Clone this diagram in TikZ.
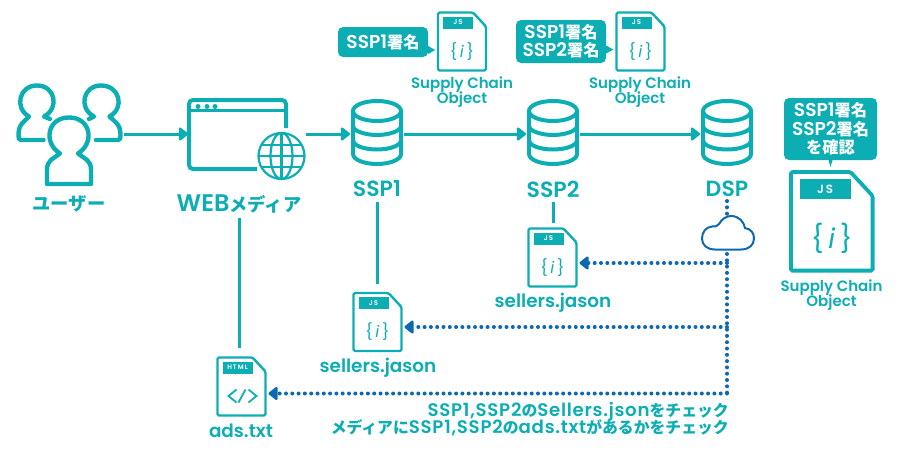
\documentclass[tikz,border=0pt]{standalone}
\usepackage{fontspec}
\setmainfont{Poppins}[BoldFont={Poppins SemiBold}]
\newfontfamily\cjk{Noto Sans CJK JP}[Scale=0.87]
\newfontfamily\latinwide{Poppins}[BoldFont={Poppins SemiBold},LetterSpace=4]
\usetikzlibrary{arrows.meta}
\definecolor{tealmain}{HTML}{0CAEB4}
\definecolor{bluemain}{HTML}{0B68B1}
\newcommand{\jp}[1]{{\cjk #1}}
\newcommand{\fs}[2]{\fontsize{#1}{#2}\selectfont\bfseries\lineskiplimit=-30pt\relax}
\tikzset{
    icon/.style={inner sep=0pt, outer sep=0pt},
    lbl/.style={text=tealmain, inner sep=0pt, align=center},
    sign/.style={fill=tealmain, text=white, rounded corners=5pt, inner sep=0pt, align=center, font=\fs{18.6}{18.5}},
    flow/.style={draw=tealmain, line width=3pt, -{Triangle[round,length=10pt,width=15pt]}},
    link/.style={draw=tealmain, line width=3pt},
    dotline/.style={draw=bluemain, line width=4pt, line cap=round, dash pattern=on 0pt off 6.3pt},
    dothead/.style={dotline, -{Triangle[round,length=10pt,width=15pt,color=bluemain,sep=2pt]}},
    smallfile/.style={line width=2.4pt},
    bigfile/.style={line width=3.8pt, scale=1.7, transform shape},
    filebody/.pic={
        \draw[tealmain, rounded corners=1.5pt] (0,0) -- (35,0) -- (48,14) -- (48,58) -- (0,58) -- cycle;
        \fill[tealmain] (5,4) rectangle (35,16);
    },
    jsfile/.pic={
        \pic {filebody};
        \node[icon, minimum width=48pt, minimum height=58pt] (box) at (24,29) {};
        \node[icon, text=white, font=\fontsize{7}{7}\selectfont\bfseries] (tag) at (20,10) {J\,S};
        \node[icon, text=tealmain, font=\fontsize{16}{16}\selectfont] (mark) at (24,39) {\{\,\textit{i}\,\}};
    },
    htmlfile/.pic={
        \pic {filebody};
        \node[icon, minimum width=48pt, minimum height=58pt] (box) at (24,29) {};
        \node[icon, text=white, font=\fontsize{6.5}{6.5}\selectfont\bfseries] (tag) at (20,10) {H\,T\,M\,L};
        \draw[tealmain, line width=1.8pt] (19,32) -- (11,38.5) -- (19,45) (21,45) -- (28,32) (31,32) -- (39,38.5) -- (31,45);
    },
    dbicon/.pic={
        \draw[tealmain, line width=4pt] (0,-23) ellipse [x radius=24, y radius=10];
        \draw[tealmain, line width=4pt] (-24,-23) -- (-24,20) .. controls (-24,26) and (-12,30) .. (0,30) .. controls (12,30) and (24,26) .. (24,20) -- (24,-23);
        \draw[tealmain, line width=4pt] (-24,-8) .. controls (-24,-3) and (-12,1) .. (0,1) .. controls (12,1) and (24,-3) .. (24,-8);
        \draw[tealmain, line width=4pt] (-24,6) .. controls (-24,12) and (-12,15.5) .. (0,15.5) .. controls (12,15.5) and (24,12) .. (24,6);
    },
}
\begin{document}
\begin{tikzpicture}[x=1pt, y=-1pt]
    \useasboundingbox (0,0) rectangle (900,450);
    % people
    \begin{scope}[draw=tealmain, line width=4.4pt, line cap=round, line join=round]
    \draw[tealmain] (43.5,140) -- (21,140) .. controls (18.5,140) and (18.5,138) .. (18.5,135) .. controls (18.5,124) and (24,122) .. (29,116.5)
        .. controls (14,108) and (19,85.5) .. (37,85.5) .. controls (55,85.5) and (60,108) .. (44,116.5) -- (50,119);
    \draw[tealmain] (96,140) -- (118,140) .. controls (120.5,140) and (120.5,138) .. (120.5,135) .. controls (120.5,124) and (115,122) .. (109.5,116.5)
        .. controls (125,108) and (120,85.5) .. (101,85.5) .. controls (83,85.5) and (78,108) .. (94,116.5) -- (89,119);
    \draw[tealmain] (47,184) -- (47,170) .. controls (47,160) and (53,159) .. (60,153.5)
        .. controls (43,143) and (47,117.5) .. (69,117.5) .. controls (91,117.5) and (95,143) .. (78,153.5)
        .. controls (85,159) and (91,160) .. (91,170) -- (91,184) -- cycle;
    \end{scope}
    \node[icon, minimum width=106pt, minimum height=60pt] (users) at (70.5,134) {};
    \node[lbl, font=\fs{21}{21}] (userlabel) at (69,204) {\jp{ユーザー}};
    % web
    \draw[tealmain, line width=4pt, rounded corners=4pt] (257,169) -- (189,169) -- (189,100) -- (286,100) -- (286,128);
    \draw[tealmain, line width=3pt] (189,110.5) -- (286,110.5);
    \foreach \dx in {198,207,215}
        \fill[tealmain] (\dx,106.5) circle (2.5);
    \begin{scope}[shift={(281.5,156)}, tealmain, line width=2.2pt]
    \draw circle (23);
    \draw (0,0) ellipse [x radius=11, y radius=23];
    \draw (0,-23) -- (0,23) (-23,0) -- (23,0) (-20,-11) -- (20,-11) (-20,11) -- (20,11);
    \end{scope}
    \node[icon, minimum width=118pt, minimum height=60pt] (web) at (247,134) {};
    \node[lbl, font=\fs{24}{24}] (weblabel) at (239,204) {WEB{\fontsize{21}{24}\selectfont\jp{メディア}}};
    % servers
    \node[icon, minimum width=54pt, minimum height=66pt] (ssp1) at (377,134) {};
    \node[icon, minimum width=54pt, minimum height=66pt] (ssp2) at (553,134) {};
    \node[icon, minimum width=54pt, minimum height=66pt] (dsp) at (727,134) {};
    \pic at (377,134) {dbicon};
    \pic at (553,134) {dbicon};
    \pic at (727,134) {dbicon};
    \node[lbl, font=\fs{22}{22}] (ssp1label) at (377,189) {SSP1};
    \node[lbl, font=\fs{22}{22}] (ssp2label) at (553,189) {SSP2};
    \node[lbl, font=\fs{22}{22}] (dsplabel) at (727,189) {DSP};
    \draw[flow] (users) -- (web);
    \draw[flow] (web) -- (ssp1);
    \draw[flow] (ssp1) -- (ssp2);
    \draw[flow] (ssp2) -- (dsp);
    % files
    \pic (sco1) [smallfile] at (438,12.5) {jsfile};
    \pic (sco2) [smallfile] at (616.5,12.5) {jsfile};
    \pic (sco3) [bigfile] at (791,172) {jsfile};
    \pic (sell2) [smallfile] at (528.5,228.5) {jsfile};
    \pic (sell1) [smallfile] at (353.5,293) {jsfile};
    \pic (ads) [smallfile] at (217.5,357.5) {htmlfile};
    \node[lbl, font=\fs{15}{15.5}] (sco1label) at (462,92) {Supply Chain\\Object};
    \node[lbl, font=\fs{15}{15.5}] (sco2label) at (640,92) {Supply Chain\\Object};
    \node[lbl, font=\fs{15}{15.5}] (sco3label) at (831.5,295) {Supply Chain\\Object};
    \node[lbl, font=\fs{18.4}{18.4}] (sell2label) at (553,303) {sellers.jason};
    \node[lbl, font=\fs{18.4}{18.4}] (sell1label) at (378,368) {sellers.jason};
    \node[lbl, font=\fs{18.4}{18.4}] (adslabel) at (241,431) {ads.txt};
    % signatures
    \node[sign, minimum width=90pt, minimum height=30pt] (sign1) at (383,42) {SSP1\jp{署名}};
    \node[sign, minimum width=90pt, minimum height=43pt] (sign2) at (561,41.5) {SSP1\jp{署名}\\SSP2\jp{署名}};
    \node[sign, minimum width=93pt, minimum height=62pt] (sign3) at (830.5,129) {SSP1\jp{署名}\\SSP2\jp{署名}\\\jp{を確認}};
    \fill[tealmain] ([yshift=-4pt]sign1.east) -- ++(7,4) -- ++(-7,4) -- cycle;
    \fill[tealmain] ([yshift=-4pt]sign2.east) -- ++(7,4) -- ++(-7,4) -- cycle;
    \fill[tealmain] ([xshift=-4pt]sign3.south) ++(2,0) -- ++(4,0) -- ++(-2,7) -- cycle;
    % links
    \draw[link, shorten <=5pt, shorten >=10pt] (weblabel.south) -- (weblabel.south |- adsbox.north);
    \draw[link, shorten <=5pt, shorten >=9pt] (ssp1label.south) -- (ssp1label.south |- sell1box.north);
    \draw[link, shorten <=5pt, shorten >=6pt] (ssp2label.south) -- (ssp2label.south |- sell2box.north);
    % cloud
    \node[icon, minimum width=52pt, minimum height=34pt] (cloud) at (728,233) {};
    \draw[bluemain, line width=2pt] (715,249.5) .. controls (707,249.5) and (702,245) .. (702,238.5) .. controls (702,232) and (706,227) .. (712,226.5)
        .. controls (714,226.5) and (716,227) .. (719,224) .. controls (722,219) and (726,216) .. (731,216) .. controls (739,216) and (744,222) .. (745,228)
        .. controls (751,229) and (754,233) .. (754,238.5) .. controls (754,245) and (749,249.5) .. (741,249.5) -- cycle;
    % checks
    \coordinate (turn1) at (727,263);
    \coordinate (turn2) at (727,327);
    \coordinate (turn3) at (727,393.5);
    \draw[dotline, shorten <=4pt, shorten >=2pt] (dsplabel.south) -- (cloud.north -| dsplabel.south);
    \draw[dotline, shorten <=4pt] (cloud.south) ++(-1,0) -- (turn3);
    \draw[dothead, shorten >=1pt] (turn1) -- (turn1 -| sell2box.east);
    \draw[dothead, shorten >=1pt] (turn2) -- (turn2 -| sell1box.east);
    \draw[dothead, shorten >=1pt] (turn3) -- (turn3 -| adsbox.east);
    \node[lbl, font=\latinwide\fs{18.2}{16.8}, align=right, anchor=north east] (checklabel) at (729,402) {SSP1,SSP2\jp{の}Sellers.json\jp{をチェック}\\\jp{メディアに}SSP1,SSP2\jp{の}ads.txt\jp{があるかをチェック}};
\end{tikzpicture}
\end{document}
